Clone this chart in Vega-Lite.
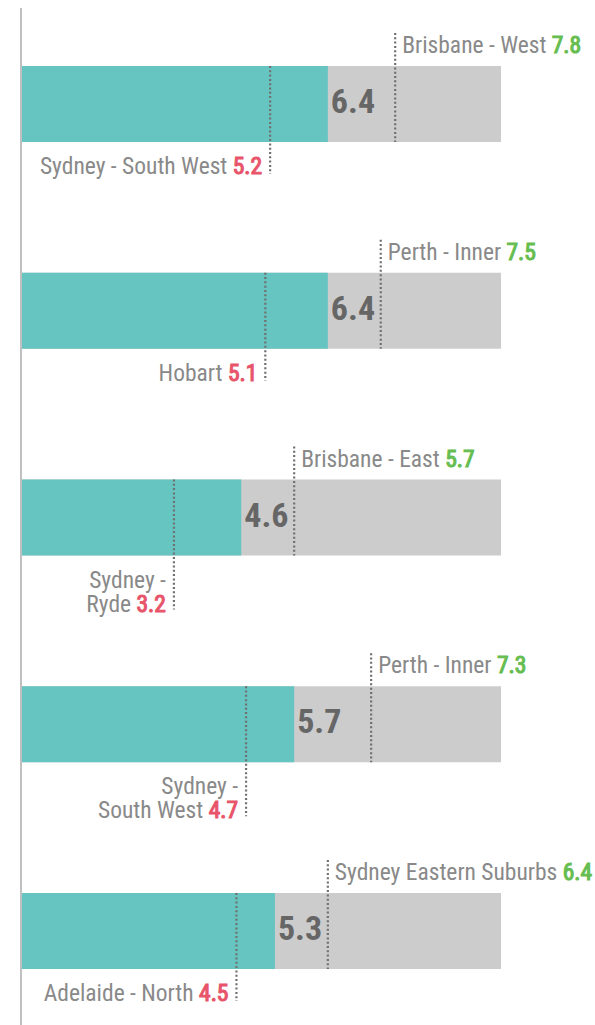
{
  "$schema": "https://vega.github.io/schema/vega-lite/v6.json",
  "width": 481,
  "height": 1016,
  "autosize": {"type": "none"},
  "padding": {"left": 20, "top": 9, "right": 94, "bottom": 0},
  "background": "#ffffff",
  "config": {"view": {"stroke": null}, "font": "Liberation Sans Narrow, Roboto Condensed, Roboto, sans-serif"},
  "data": {
    "values": [
      {"row": 1, "value": 6.4, "max": 7.8, "maxName": "Brisbane - West", "min": 5.2, "minName": "Sydney - South West"},
      {"row": 2, "value": 6.4, "max": 7.5, "maxName": "Perth - Inner", "min": 5.1, "minName": "Hobart"},
      {"row": 3, "value": 4.6, "max": 5.7, "maxName": "Brisbane - East", "min": 3.2, "minName": "Sydney -\nRyde"},
      {"row": 4, "value": 5.7, "max": 7.3, "maxName": "Perth - Inner", "min": 4.7, "minName": "Sydney -\nSouth West"},
      {"row": 5, "value": 5.3, "max": 6.4, "maxName": "Sydney Eastern Suburbs", "min": 4.5, "minName": "Adelaide - North"}
    ]
  },
  "transform": [
    {"calculate": "format(datum.value, '.1f')", "as": "valueText"},
    {"calculate": "datum.maxName + ' ' + format(datum.max, '.1f')", "as": "maxFull"},
    {"calculate": "datum.minName + ' ' + format(datum.min, '.1f')", "as": "minFull"},
    {"calculate": "indexof(datum.minName, '\\n') >= 0 ? '\\n' + format(datum.min, '.1f') : format(datum.min, '.1f')", "as": "minNum"},
    {"calculate": "indexof(datum.minName, '\\n') >= 0 ? 2 : 1", "as": "minLines"}
  ],
  "encoding": {
    "y": {"field": "row", "type": "quantitative", "axis": null, "scale": {"domain": [0.5405, 5.4546], "reverse": true, "nice": false, "zero": false, "padding": 0}}
  },
  "layer": [
    {
      "mark": {"type": "bar", "orient": "horizontal", "size": 76, "color": "#cccccc"},
      "encoding": {
        "x": {"datum": 10, "type": "quantitative", "scale": {"domain": [0, 10], "nice": false, "padding": 0}, "axis": null}
      }
    },
    {
      "mark": {"type": "bar", "orient": "horizontal", "size": 76, "color": "#66c4c1"},
      "encoding": {
        "x": {"field": "value", "type": "quantitative", "axis": null}
      }
    },
    {
      "mark": {"type": "rule", "color": "#c0c0c0", "strokeWidth": 2, "xOffset": 1},
      "encoding": {
        "x": {"datum": 0, "type": "quantitative", "axis": null},
        "y": {"value": -1},
        "y2": {"value": 1016}
      }
    },
    {
      "mark": {"type": "text", "align": "left", "baseline": "middle", "dx": 3, "dy": -1, "fontSize": 34, "fontWeight": "bold", "color": "#666666"},
      "encoding": {
        "x": {"field": "value", "type": "quantitative", "axis": null},
        "text": {"field": "valueText"}
      }
    },
    {
      "mark": {"type": "rule", "color": "#707070", "strokeWidth": 2.2, "strokeDash": [2, 2.3], "yOffset": -71, "y2Offset": 38},
      "encoding": {
        "y2": {"field": "row"},
        "x": {"field": "max", "type": "quantitative", "axis": null}
      }
    },
    {
      "transform": [{"filter": "datum.minLines == 1"}],
      "mark": {"type": "rule", "color": "#707070", "strokeWidth": 2.2, "strokeDash": [2, 2.3], "yOffset": -38, "y2Offset": 70},
      "encoding": {
        "y2": {"field": "row"},
        "x": {"field": "min", "type": "quantitative", "axis": null}
      }
    },
    {
      "transform": [{"filter": "datum.minLines == 2"}],
      "mark": {"type": "rule", "color": "#707070", "strokeWidth": 2.2, "strokeDash": [2, 2.3], "yOffset": -38, "y2Offset": 92},
      "encoding": {
        "y2": {"field": "row"},
        "x": {"field": "min", "type": "quantitative", "axis": null}
      }
    },
    {
      "mark": {"type": "text", "align": "left", "baseline": "alphabetic", "dx": 7, "dy": -51, "fontSize": 23.5, "fill": "#66bd50", "stroke": "#66bd50", "strokeWidth": 1.1},
      "encoding": {
        "x": {"field": "max", "type": "quantitative", "axis": null},
        "text": {"field": "maxFull"}
      }
    },
    {
      "mark": {"type": "text", "align": "left", "baseline": "alphabetic", "dx": 7, "dy": -51, "fontSize": 23.5, "fill": "#ffffff", "stroke": "#ffffff", "strokeWidth": 3},
      "encoding": {
        "x": {"field": "max", "type": "quantitative", "axis": null},
        "text": {"field": "maxName"}
      }
    },
    {
      "mark": {"type": "text", "align": "left", "baseline": "alphabetic", "dx": 7, "dy": -51, "fontSize": 23.5, "fill": "#898989"},
      "encoding": {
        "x": {"field": "max", "type": "quantitative", "axis": null},
        "text": {"field": "maxName"}
      }
    },
    {
      "mark": {"type": "text", "align": "right", "baseline": "alphabetic", "dx": -8, "dy": 70, "fontSize": 23.5, "lineBreak": "\n", "lineHeight": 24, "fill": "#898989"},
      "encoding": {
        "x": {"field": "min", "type": "quantitative", "axis": null},
        "text": {"field": "minFull"}
      }
    },
    {
      "mark": {"type": "text", "align": "right", "baseline": "alphabetic", "dx": -8, "dy": 70, "fontSize": 23.5, "lineBreak": "\n", "lineHeight": 24, "fill": "#ffffff", "stroke": "#ffffff", "strokeWidth": 3},
      "encoding": {
        "x": {"field": "min", "type": "quantitative", "axis": null},
        "text": {"field": "minNum"}
      }
    },
    {
      "mark": {"type": "text", "align": "right", "baseline": "alphabetic", "dx": -8, "dy": 70, "fontSize": 23.5, "lineBreak": "\n", "lineHeight": 24, "fill": "#e8546a", "stroke": "#e8546a", "strokeWidth": 1.1},
      "encoding": {
        "x": {"field": "min", "type": "quantitative", "axis": null},
        "text": {"field": "minNum"}
      }
    }
  ]
}
